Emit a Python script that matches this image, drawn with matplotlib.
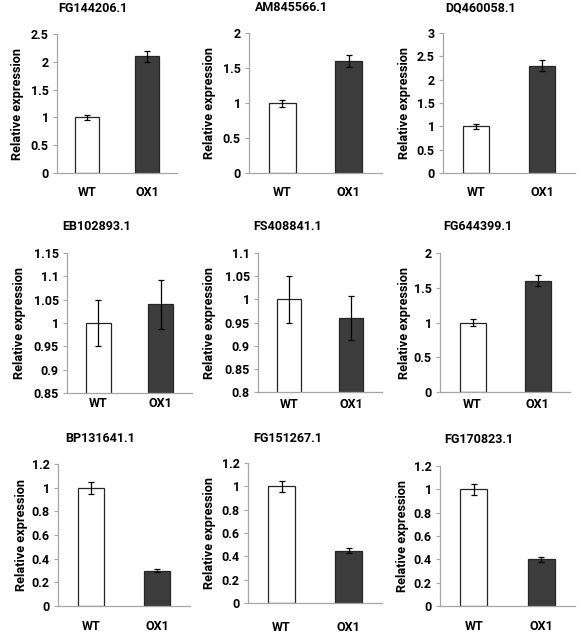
import numpy as np
import matplotlib
matplotlib.use("Agg")
from matplotlib import pyplot as plt
from matplotlib.ticker import FormatStrFormatter

plt.rcParams['font.family'] = ['Roboto', 'DejaVu Sans']
plt.rcParams['font.weight'] = 'bold'

genes = ["FG144206.1", "AM845566.1", "DQ460058.1",
         "EB102893.1", "FS408841.1", "FG644399.1",
         "BP131641.1", "FG151267.1", "FG170823.1"]
groups = ["WT", "OX1"]
wt_mean = [1.0, 1.0, 1.0, 1.0, 1.0, 1.0, 1.0, 1.0, 1.0]
wt_err = [0.05, 0.05, 0.05, 0.05, 0.05, 0.05, 0.05, 0.05, 0.05]
ox1_mean = [2.1, 1.6, 2.3, 1.04, 0.96, 1.6, 0.3, 0.45, 0.4]
ox1_err = [0.1, 0.08, 0.12, 0.052, 0.048, 0.08, 0.015, 0.022, 0.02]
y_min = [0, 0, 0, 0.85, 0.8, 0, 0, 0, 0]
y_max = [2.5, 2, 3, 1.15, 1.1, 2, 1.2, 1.2, 1.2]
y_step = [0.5, 0.5, 0.5, 0.05, 0.05, 0.5, 0.2, 0.2, 0.2]

W, H = 583, 634
# panel boxes in pixels: left, right, top, bottom
boxes = [(57, 177, 34, 173), (249, 382, 33, 173), (443, 575, 33, 173),
         (67, 192, 253, 393), (258, 382, 253, 392), (440, 570, 253, 392),
         (58, 190, 464, 606), (248, 382, 463, 603), (440, 575, 466, 606)]
title_xy = [(93, 17), (291, 16), (481, 16), (97, 235), (288, 235), (478, 235),
            (100, 447), (288, 447), (479, 448)]
ylab_x = [18, 210, 405, 20, 210, 405, 22, 210, 403]
xlab_y = [188, 188, 188, 402, 402, 402, 622, 622, 622]

fig = plt.figure(figsize=(W / 100, H / 100), dpi=100)
spine_col = '#a6a6a6'

for i in range(9):
    l, r, t, b = boxes[i]
    ax = fig.add_axes([l / W, 1 - b / H, (r - l) / W, (b - t) / H])
    x = np.arange(2)
    ax.bar(x, [wt_mean[i], ox1_mean[i]], width=0.4, color=['white', '#3c3c3c'],
           edgecolor='#262626', linewidth=0.9, zorder=2)
    ax.errorbar(x, [wt_mean[i], ox1_mean[i]], yerr=[wt_err[i], ox1_err[i]],
                fmt='none', ecolor='black', elinewidth=0.9, capsize=2.5, capthick=0.9, zorder=3)
    ax.set_xlim(-0.5, 1.5)
    ax.set_ylim(y_min[i], y_max[i])
    ax.set_yticks(np.round(np.arange(y_min[i], y_max[i] + 1e-9, y_step[i]), 2))
    ax.yaxis.set_major_formatter(FormatStrFormatter('%g'))
    ax.set_xticks(x)
    ax.set_xticklabels(groups)
    for s in ['top', 'right']:
        ax.spines[s].set_visible(False)
    for s in ['left', 'bottom']:
        ax.spines[s].set_color(spine_col)
        ax.spines[s].set_linewidth(0.9)
    ax.tick_params(axis='y', length=3, color=spine_col, labelsize=9, pad=3)
    ax.tick_params(axis='x', length=0, labelsize=9,
                   pad=(xlab_y[i] - b) - 6)
    # title and y label placed in axes fraction from pixel coordinates
    tx, ty = title_xy[i]
    ax.set_title(genes[i], fontsize=9, fontweight='bold',
                 x=(tx - l) / (r - l), y=(b - ty) / (b - t), va='center')
    ax.set_ylabel("Relative expression", fontsize=9.2, fontweight='bold')
    ax.yaxis.set_label_coords((ylab_x[i] + 6 - l) / (r - l), 0.5)

fig.savefig("out.png", dpi=100)
